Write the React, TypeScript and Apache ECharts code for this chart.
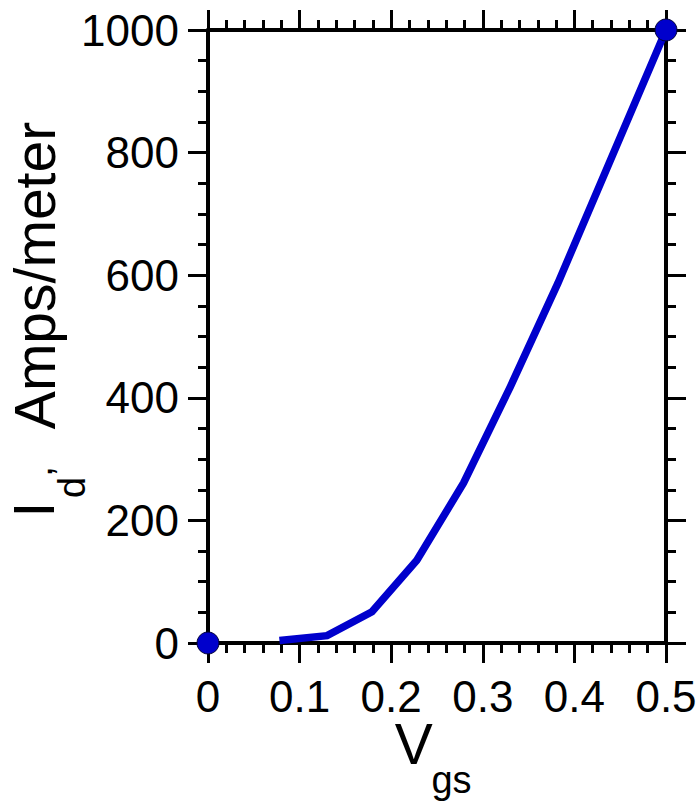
import React, { useEffect, useRef } from "react";
import * as echarts from "echarts";

const vgs = [0.078, 0.13, 0.179, 0.228, 0.279, 0.33, 0.382, 0.5];
const idValues = [4, 12, 51, 135, 261, 418, 587, 1000];
const markerV = [0, 0.5];
const markerI = [0, 1000];
const xTicks = { min: 0, max: 0.5, interval: 0.1 };
const yTicks = { min: 0, max: 1000, interval: 200 };

const FONT = "'Liberation Sans', Arial, Helvetica, sans-serif";
const BLUE = "#0000CC";

export default function App() {
  const ref = useRef<HTMLDivElement>(null);
  useEffect(() => {
    document.body.style.margin = "0";
    if (!ref.current) return;
    const chart = echarts.init(ref.current, null, { renderer: "svg" });
    const axisLine = { show: true, onZero: false, lineStyle: { color: "#000", width: 4 } };
    const axisTick = { show: true, inside: false, length: 20, lineStyle: { color: "#000", width: 3 } };
    const mkX = (pos: "bottom" | "top", labels: boolean) => ({
      type: "value",
      position: pos,
      min: xTicks.min,
      max: xTicks.max,
      interval: xTicks.interval,
      axisLine,
      axisTick,
      minorTick: { show: true, splitNumber: 5, length: 10, lineStyle: { color: "#000", width: 3 } },
      splitLine: { show: false },
      axisLabel: {
        show: labels,
        fontSize: 44,
        fontFamily: FONT,
        color: "#000",
        margin: 31,
        formatter: (v: number) => String(+v.toFixed(1)),
      },
    });
    const mkY = (pos: "left" | "right", labels: boolean) => ({
      type: "value",
      position: pos,
      min: yTicks.min,
      max: yTicks.max,
      interval: yTicks.interval,
      axisLine,
      axisTick,
      minorTick: { show: true, splitNumber: 4, length: 10, lineStyle: { color: "#000", width: 3 } },
      splitLine: { show: false },
      axisLabel: {
        show: labels,
        fontSize: 44,
        fontFamily: FONT,
        color: "#000",
        margin: 29,
        formatter: (v: number) => String(Math.round(v)),
      },
    });
    const txt = (text: string, x: number, y: number, size: number, rot = 0) => ({
      type: "text",
      x,
      y,
      rotation: rot,
      silent: true,
      style: {
        text,
        fontSize: size,
        fontFamily: FONT,
        fill: "#000",
        align: "center",
        verticalAlign: "middle",
        textAlign: "center",
        textVerticalAlign: "middle",
      },
    });
    const R = Math.PI / 2;
    chart.setOption({
      animation: false,
      backgroundColor: "#fff",
      grid: { left: 208, right: 34, top: 30, bottom: 159, containLabel: false },
      xAxis: [mkX("bottom", true), mkX("top", false)],
      yAxis: [mkY("left", true), mkY("right", false)],
      series: [
        {
          type: "line",
          xAxisIndex: 0,
          yAxisIndex: 0,
          data: vgs.map((v, i) => [v, idValues[i]]),
          showSymbol: false,
          symbol: "none",
          clip: false,
          lineStyle: { color: BLUE, width: 7.5, join: "miter" },
          z: 3,
        },
        {
          type: "scatter",
          xAxisIndex: 0,
          yAxisIndex: 0,
          data: markerV.map((v, i) => [v, markerI[i]]),
          symbol: "circle",
          symbolSize: 22,
          clip: false,
          itemStyle: { color: BLUE, borderColor: "#000033", borderWidth: 1, opacity: 1 },
          z: 4,
        },
      ],
      graphic: [
        txt("I", 34, 509.5, 57, R),
        txt("d", 72, 487.5, 38, R),
        txt(",", 39, 471.5, 38, R),
        txt("Amps/meter", 35, 275.5, 57, R),
        txt("V", 413.7, 744, 57),
        txt("gs", 451.5, 780, 38),
      ],
    });
    return () => chart.dispose();
  }, []);
  return <div ref={ref} style={{ width: 700, height: 802 }} />;
}
